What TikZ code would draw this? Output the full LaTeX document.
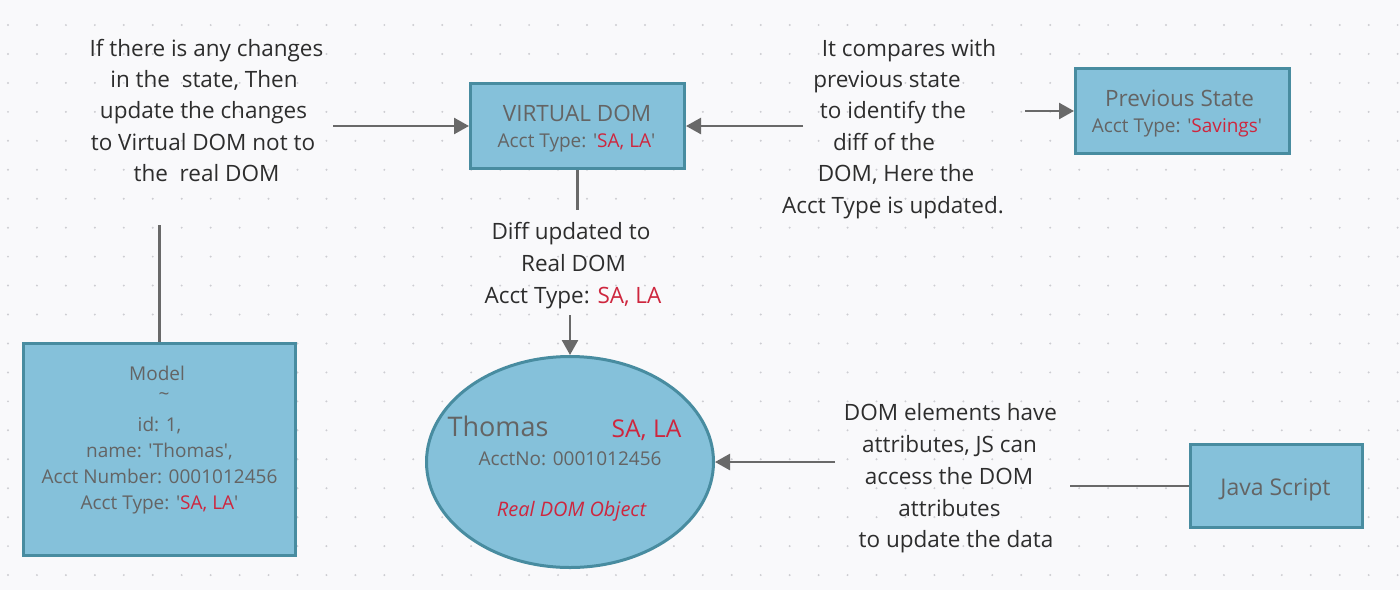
\documentclass[tikz,border=0pt]{standalone}
\usepackage{fontspec}
\setmainfont{Open Sans}[Ligatures=TeXOff]
\usetikzlibrary{arrows.meta,shapes.geometric}
\definecolor{boxfill}{RGB}{133,193,218}
\definecolor{boxline}{RGB}{72,140,160}
\definecolor{redtxt}{RGB}{206,38,62}
\definecolor{nodetxt}{RGB}{100,100,100}
\definecolor{anntxt}{RGB}{45,45,45}
\definecolor{bgc}{RGB}{249,249,251}
\definecolor{dotc}{RGB}{205,205,210}
\definecolor{connc}{RGB}{105,105,105}
\begin{document}
\begin{tikzpicture}[x=1pt,y=-1pt,
  box/.style={draw=boxline, fill=boxfill, line width=3pt, inner sep=0pt},
  conn/.style={draw=connc, line width=2.5pt},
  arr/.style={conn, -{Triangle[length=15pt,width=16pt]}},
  ann/.style={text=anntxt, font=\fontsize{22.5}{27}\selectfont, inner sep=0pt, anchor=base},
  ntxt/.style={text=nodetxt, inner sep=0pt, anchor=base},
]
\useasboundingbox (0,0) rectangle (1400,590);
\fill[bgc] (0,0) rectangle (1400,590);
\foreach \i in {0,...,48} \foreach \j in {0,...,19} \fill[dotc] (8+28.95*\i, 25+28.95*\j) circle (1.1);

% shapes
\node[box, minimum width=214pt, minimum height=85pt] (vd) at (577.5,126) {};
\node[box, minimum width=214pt, minimum height=85pt] (ps) at (1182.5,111) {};
\node[box, minimum width=272pt, minimum height=212pt] (model) at (159.5,449.5) {};
\node[box, minimum width=172pt, minimum height=83pt] (js) at (1276.5,486) {};
\node[box, ellipse, minimum width=287pt, minimum height=211pt] (dom) at (570,462) {};

% texts in shapes
\node[ntxt, font=\fontsize{22.5}{27}\selectfont] (vdt) at (577,121.7) {VIRTUAL DOM};
\node[ntxt, font=\fontsize{19}{23}\selectfont] (vds) at (576.5,147.7) {Acct Type: '\textcolor{redtxt}{SA, LA}'};
\node[ntxt, font=\fontsize{22.5}{27}\selectfont] (pst) at (1179.5,106.7) {Previous State};
\node[ntxt, font=\fontsize{19}{23}\selectfont] (pss) at (1177,132.7) {Acct Type: '\textcolor{redtxt}{Savings}'};
\node[ntxt, font=\fontsize{19}{23}\selectfont] (m1) at (157,380) {Model};
\node[ntxt, font=\fontsize{19}{23}\selectfont] (m2) at (164,400) {\char"007E};
\node[ntxt, font=\fontsize{19}{23}\selectfont] (m3) at (159.5,431.7) {id: 1,};
\node[ntxt, font=\fontsize{19}{23}\selectfont] (m4) at (159.5,457.5) {name: 'Thomas',};
\node[ntxt, font=\fontsize{19}{23}\selectfont] (m5) at (159.5,483.3) {Acct Number: 0001012456};
\node[ntxt, font=\fontsize{19}{23}\selectfont] (m6) at (159.5,509.3) {Acct Type: '\textcolor{redtxt}{SA, LA}'};
\node[ntxt, font=\fontsize{27}{32}\selectfont] (d1) at (498,436.7) {Thomas};
\node[ntxt, text=redtxt, font=\fontsize{24.5}{29}\selectfont] (d2) at (646.5,437.5) {SA, LA};
\node[ntxt, font=\fontsize{19}{23}\selectfont] (d3) at (570,465) {AcctNo: 0001012456};
\node[ntxt, text=redtxt, font=\fontsize{20}{24}\selectfont\itshape] (d4) at (571.5,516) {Real DOM Object};
\node[ntxt, font=\fontsize{23}{27}\selectfont] (jst) at (1275.5,495) {Java Script};

% annotation 1
\node[ann] (a1l1) at (206.5,56) {If there is any changes};
\node[ann] (a1l2) at (204,87.5) {in the\ \ state, Then};
\node[ann] (a1l3) at (203.5,118.5) {update the changes};
\node[ann] (a1l4) at (203,150) {to Virtual DOM not to};
\node[ann] (a1l5) at (206.5,181.5) {the\ \ real DOM};
% annotation 2
\node[ann] (a2l1) at (909,56) {It compares with};
\node[ann] (a2l2) at (887,87) {previous state};
\node[ann] (a2l3) at (893,118.5) {to identify the};
\node[ann] (a2l4) at (884,150) {diff of the};
\node[ann] (a2l5) at (896,181.5) {DOM, Here the};
\node[ann] (a2l6) at (893,213) {Acct Type is updated.};
% annotation 3
\node[ann] (a3l1) at (571,239.3) {Diff updated to};
\node[ann] (a3l2) at (573.5,271.5) {Real DOM};
\node[ann] (a3l3) at (573,303.3) {Acct Type: \textcolor{redtxt}{SA, LA}};
% annotation 4
\node[ann] (a4l1) at (950.5,420) {DOM elements have};
\node[ann] (a4l2) at (949.5,452) {attributes, JS can};
\node[ann] (a4l3) at (949,484) {access the DOM};
\node[ann] (a4l4) at (949.5,516) {attributes};
\node[ann] (a4l5) at (956,547.5) {to update the data};

% connectors
\coordinate (c1) at (333,126);
\coordinate (c2) at (803,126);
\coordinate (c3) at (1025,111);
\coordinate (c4) at (577.5,210);
\coordinate (c5) at (570,315);
\coordinate (c6) at (159.5,225);
\coordinate (c7) at (835,462);
\coordinate (c8) at (1070,486);
\draw[arr] (c1) -- (vd.west);
\draw[arr] (c2) -- (vd.east);
\draw[arr] (c3) -- (ps.west);
\draw[conn] (vd.south) -- (c4);
\draw[arr] (c5) -- (dom.north);
\draw[conn] (c6) -- (model.north);
\draw[arr] (c7) -- (dom.east);
\draw[conn] (c8) -- (js.west);
\end{tikzpicture}
\end{document}
